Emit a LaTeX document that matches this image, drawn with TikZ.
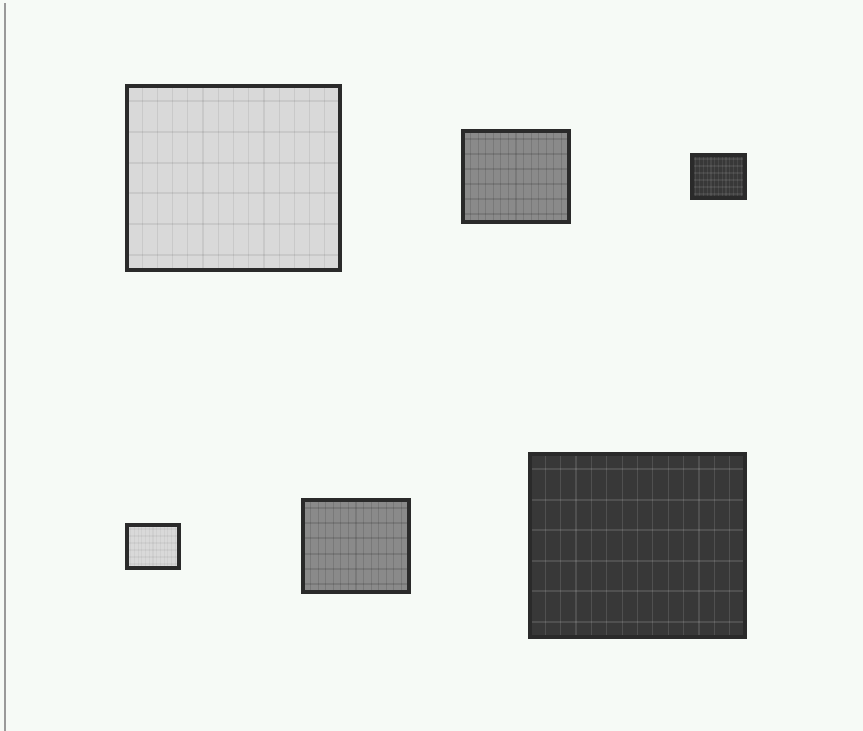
\documentclass[tikz,border=0pt]{standalone}
\usetikzlibrary{calc}
\definecolor{bgmint}{HTML}{F6FAF6}
\definecolor{frame}{HTML}{2A2A2A}
\definecolor{lightfill}{HTML}{D9D9D9}
\definecolor{midfill}{HTML}{8A8A8A}
\definecolor{darkfill}{HTML}{383838}
\tikzset{
  tile/.style={draw=frame, line width=3.5pt, inner sep=0pt, outer sep=0pt},
  stripe/.style={line width=1.2pt},
}
% #1 name, #2 fill, #3 x0, #4 y0, #5 x1, #6 y1, #7 stripe colour, #8 opacity
\newcommand{\tiledrect}[8]{%
  \fill[#2] (#3,#4) rectangle (#5,#6);
  \begin{scope}
    \clip (#3,#4) rectangle (#5,#6);
    \pgfmathsetmacro{\dx}{(#5-#3)/14}
    \pgfmathsetmacro{\dy}{(#6-#4)/12}
    \foreach \i in {1,...,13} {
      \draw[stripe, draw=#7, opacity=#8] ($(#3,#4)+(\i*\dx,0)$) -- ($(#3,#6)+(\i*\dx,0)$);
    }
    \foreach \j in {1,3,5,7,9,11} {
      \draw[stripe, draw=#7, opacity=#8, line width=2pt] ($(#3,#4)+(0,\j*\dy)$) -- ($(#5,#4)+(0,\j*\dy)$);
    }
  \end{scope}
  \node[tile, minimum width={(#5-#3)*1pt}, minimum height={(#6-#4)*1pt}, anchor=north west] (#1) at (#3,#4) {};
}
\begin{document}
\begin{tikzpicture}[x=1pt, y=-1pt]
  \fill[bgmint] (0,0) rectangle (863,731);
  \useasboundingbox (0,0) rectangle (863,731);
  \draw[gray!80, line width=2pt] (5,3) -- (5,731);
  \tiledrect{a}{lightfill}{127}{86}{340}{270}{black}{0.07}
  \tiledrect{b}{midfill}{463}{131}{569}{222}{black}{0.12}
  \tiledrect{c}{darkfill}{692}{155}{745}{198}{white}{0.08}
  \tiledrect{d}{lightfill}{127}{525}{179}{568}{black}{0.04}
  \tiledrect{e}{midfill}{303}{500}{409}{592}{black}{0.12}
  \tiledrect{f}{darkfill}{530}{454}{745}{637}{white}{0.12}
\end{tikzpicture}
\end{document}
